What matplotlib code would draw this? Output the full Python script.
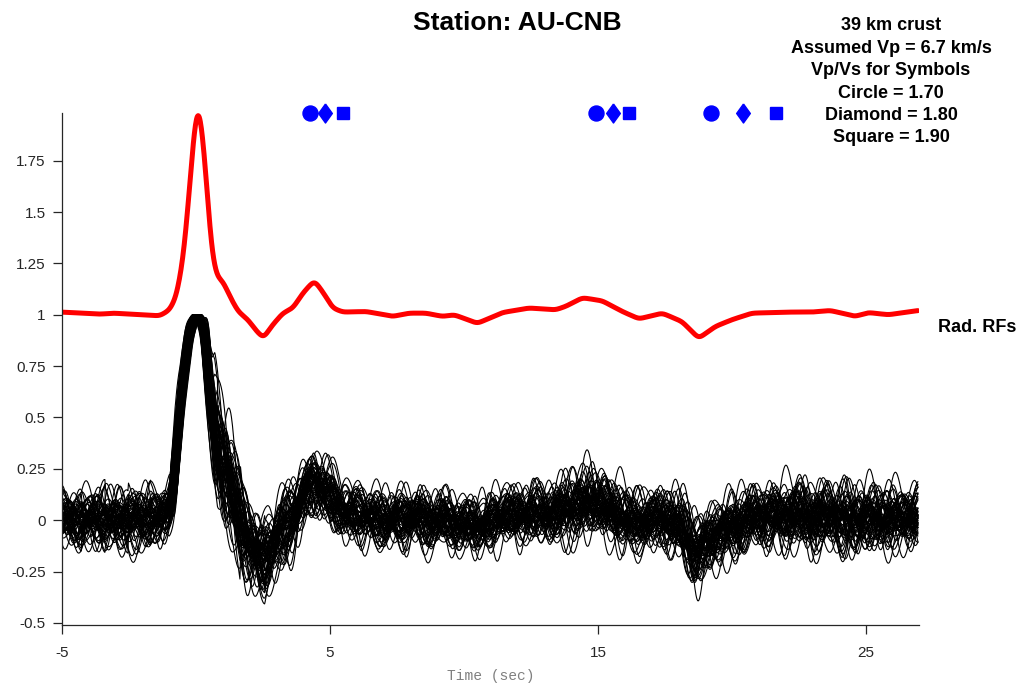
#!/usr/bin/env python3

"""
Radial receiver functions for station AU-CNB with the stacked trace on top
and predicted Ps / multiple times for three Vp/Vs ratios.
"""

import numpy as np
import matplotlib
matplotlib.use('Agg')
import matplotlib.pyplot as plt

# Stacked radial RF (red): time [s], amplitude (offset by 1)
stackTime = [-5.0, -3.58, -3.09, -2.09, -1.35, -0.98, -0.73, -0.48, -0.30, -0.11,
             0.05, 0.20, 0.39, 0.57, 0.76, 1.01, 1.26, 1.57, 1.94, 2.25,
             2.52, 2.81, 3.24, 3.62, 3.99, 4.42, 4.80, 5.10, 5.48, 6.35,
             7.34, 7.96, 8.58, 9.20, 9.64, 10.50, 11.44, 12.43, 13.42, 13.80,
             14.42, 15.16, 15.91, 16.53, 17.40, 18.14, 18.76, 19.38, 20.00, 20.75,
             22.11, 22.98, 23.67, 24.60, 25.09, 25.84, 26.95]
stackAmp = [1.013, 1.003, 1.008, 1.000, 0.995, 1.024, 1.090, 1.270, 1.520, 1.840,
            2.045, 1.950, 1.650, 1.320, 1.187, 1.163, 1.090, 1.016, 0.976, 0.922,
            0.885, 0.943, 1.008, 1.033, 1.106, 1.168, 1.098, 1.033, 1.013, 1.016,
            0.992, 1.008, 1.008, 0.992, 1.000, 0.958, 1.011, 1.033, 1.024, 1.041,
            1.083, 1.068, 1.016, 0.980, 1.008, 0.967, 0.885, 0.943, 0.976, 1.008,
            1.013, 1.013, 1.021, 0.992, 1.011, 1.000, 1.021]

# Typical shape of the individual RFs (black cloud centre)
traceTime = [-5.0, -1.2, -0.85, -0.54, -0.23, 0.05, 0.33, 0.51, 0.76, 1.01,
             1.38, 1.75, 2.12, 2.49, 2.87, 3.37, 3.86, 4.36, 4.86, 5.60,
             6.35, 7.34, 8.00, 9.20, 10.50, 11.40, 12.40, 13.40, 14.40, 15.10,
             15.90, 16.50, 17.40, 18.10, 18.70, 19.40, 20.00, 20.80, 22.10, 23.00,
             23.70, 24.60, 25.10, 25.80, 26.95]
traceAmp = [0.00, 0.00, 0.10, 0.585, 0.91, 1.00, 0.91, 0.585, 0.39, 0.29,
            0.10, -0.05, -0.146, -0.21, -0.13, -0.03, 0.065, 0.20, 0.13, 0.02,
            0.01, -0.01, 0.01, -0.01, -0.04, 0.01, 0.03, 0.02, 0.08, 0.07,
            0.01, -0.02, 0.01, -0.04, -0.17, -0.08, -0.03, 0.01, 0.02, 0.01,
            0.02, -0.01, 0.01, 0.00, 0.01]

# Trace-to-trace scatter: wiggle samples, their spacing, and per-trace settings
wiggleStep = [0.5, 0.55, 0.6, 0.45, 0.55, 0.5]
wiggles = [
    [0.6, -0.3, 0.8, -0.5, 0.2, -0.7, 0.9, -0.4, 0.3, -0.6, 0.5, 0.1, -0.8, 0.7, -0.2, 0.4,
     -0.9, 0.6, -0.3, 0.8, -0.5, 0.2, -0.4, 0.7, -0.8, 0.3, -0.1, 0.6, -0.7, 0.9, -0.3, 0.5,
     -0.6, 0.2, 0.4, -0.8, 0.7, -0.5, 0.3, -0.2, 0.8, -0.6, 0.1, -0.4, 0.9, -0.7, 0.5, -0.3,
     0.6, -0.9, 0.4, -0.2, 0.7, -0.5, 0.3, -0.8, 0.6, -0.1, 0.5, -0.7, 0.8, -0.4, 0.2, -0.6,
     0.9, -0.3],
    [-0.5, 0.7, -0.2, 0.4, -0.9, 0.6, -0.3, 0.1, 0.8, -0.6, 0.3, -0.7, 0.5, -0.4, 0.9, -0.2,
     0.2, -0.8, 0.6, -0.5, 0.7, -0.1, 0.4, -0.6, 0.8, -0.9, 0.3, -0.3, 0.5, -0.7, 0.2, 0.6,
     -0.4, 0.8, -0.5, 0.1, -0.6, 0.9, -0.2, 0.4, -0.8, 0.7, -0.3, 0.5, -0.1, -0.6, 0.8, -0.4,
     0.3, -0.7, 0.6, -0.5, 0.9, -0.2, 0.4, -0.6, 0.1, 0.7, -0.8, 0.5, -0.3, 0.6],
    [0.3, -0.8, 0.5, -0.2, 0.7, -0.4, 0.1, -0.6, 0.9, -0.5, 0.4, -0.1, 0.6, -0.9, 0.2, -0.3,
     0.8, -0.7, 0.5, 0.2, -0.4, 0.6, -0.8, 0.3, -0.5, 0.9, -0.2, 0.1, -0.6, 0.7, -0.4, 0.5,
     -0.3, 0.8, -0.9, 0.4, -0.1, 0.6, -0.5, 0.7, -0.2, 0.3, -0.8, 0.5, -0.6, 0.9, -0.4, 0.2,
     -0.7, 0.6, -0.3, 0.4, -0.5, 0.8, -0.1],
    [-0.7, 0.4, -0.3, 0.9, -0.5, 0.2, -0.1, 0.6, -0.8, 0.5, -0.4, 0.7, -0.2, 0.3, -0.6, 0.8,
     -0.9, 0.4, -0.1, 0.5, -0.7, 0.6, -0.3, 0.2, 0.7, -0.5, 0.4, -0.8, 0.9, -0.2, 0.3, -0.6,
     0.5, -0.4, 0.8, -0.7, 0.1, -0.3, 0.6, -0.9, 0.4, -0.2, 0.7, -0.5, 0.2, -0.6, 0.8, -0.1,
     0.3, -0.4, 0.6, -0.8, 0.5, -0.3, 0.9, -0.7, 0.2, -0.5, 0.4, -0.1, 0.7, -0.6, 0.3, -0.8,
     0.5, -0.2, 0.6, -0.4, 0.8, -0.3, 0.1, -0.7, 0.4],
    [0.8, -0.2, 0.4, -0.6, 0.1, -0.9, 0.5, -0.3, 0.7, -0.4, 0.2, -0.7, 0.6, -0.1, 0.9, -0.5,
     0.3, -0.8, 0.4, -0.2, 0.6, -0.6, 0.8, -0.3, 0.1, -0.5, 0.7, -0.9, 0.2, -0.4, 0.5, -0.7,
     0.9, -0.1, 0.3, -0.6, 0.6, -0.3, 0.4, -0.8, 0.2, -0.5, 0.8, -0.2, 0.5, -0.9, 0.3, -0.4,
     0.7, -0.6, 0.1, -0.3, 0.6, -0.7, 0.4, -0.5, 0.6, -0.2, 0.3],
    [-0.4, 0.6, -0.9, 0.3, -0.2, 0.7, -0.5, 0.8, -0.1, 0.4, -0.7, 0.2, -0.6, 0.9, -0.3, 0.5,
     -0.4, 0.1, 0.6, -0.8, 0.3, -0.5, 0.7, -0.2, 0.9, -0.6, 0.4, -0.3, 0.2, -0.7, 0.8, -0.4,
     0.5, -0.1, 0.6, -0.9, 0.3, -0.2, 0.7, -0.5, 0.4, -0.8, 0.1, 0.5, -0.6, 0.8, -0.3, 0.2,
     -0.4, 0.7, -0.7, 0.3, -0.5, 0.6, -0.2, 0.9, -0.6, 0.4, -0.3, 0.5, -0.8, 0.2, -0.1, 0.6,
     -0.5, 0.3],
]
wiggleRoll = [0, 37, 81, 124, 166, 203, 248, 291, 333, 379]
wiggleScale = [0.17, 0.23, 0.29, 0.19, 0.32, 0.25, 0.15, 0.30, 0.21, 0.34]
pulseShift = [0.0, -0.1, 0.07, -0.15, 0.12, 0.04, -0.05]

# Scatter envelope along the record (quiet around the direct P pulse)
envTime = [-5.0, -1.0, -0.6, 0.3, 0.7, 1.1, 2.0, 3.0, 4.0, 5.5, 6.0, 13.0, 14.5, 15.5,
           17.0, 18.5, 19.5, 21.0, 22.0, 24.0, 26.95]
envGain = [0.8, 0.8, 0.2, 0.2, 1.4, 1.5, 1.15, 0.95, 0.85, 0.8, 0.75, 0.8, 1.0, 0.95,
           0.85, 1.0, 0.9, 0.85, 0.95, 0.95, 0.85]

# Predicted Ps, PpPs, PpSs times for Vp/Vs = 1.70 / 1.80 / 1.90
circleTimes = [4.27, 14.93, 19.21]
diamondTimes = [4.83, 15.56, 20.40]
squareTimes = [5.47, 16.15, 21.63]

infoLines = ['39 km crust', 'Assumed Vp = 6.7 km/s', 'Vp/Vs for Symbols',
             'Circle = 1.70', 'Diamond = 1.80', 'Square = 1.90']
yTicks = [-0.5, -0.25, 0, 0.25, 0.5, 0.75, 1, 1.25, 1.5, 1.75]
yTickLabels = ['-0.5', '-0.25', '0', '0.25', '0.5', '0.75', '1', '1.25', '1.5', '1.75']
xTicks = [-5, 5, 15, 25]
xTickLabels = ['-5', '5', '15', '25']

dt = 0.02
time = np.arange(-5.0, 26.96, dt)


def smooth(values, sigma):
    """Gaussian smoothing of a sampled series, sigma in seconds."""
    half = int(4 * sigma / dt)
    kernel = np.exp(-0.5 * (np.arange(-half, half + 1) * dt / sigma) ** 2)
    kernel /= kernel.sum()
    return np.convolve(np.pad(values, half, mode='edge'), kernel, mode='valid')


def buildTraces():
    """Individual RFs: common shape plus the typed scatter, peak scaled to 1."""
    envelope = np.interp(time, envTime, envGain)
    wiggleCurves = []
    for step, samples in zip(wiggleStep, wiggles):
        sampleTime = -5.0 + step * np.arange(len(samples))
        wiggleCurves.append(smooth(np.interp(time, sampleTime, samples), 0.13))

    traces = []
    for k in range(len(wiggleRoll) * len(wiggles)):
        first = np.roll(wiggleCurves[k % 6], wiggleRoll[k // 6])
        second = np.roll(wiggleCurves[(k + 2) % 6], wiggleRoll[(k // 6 + 3) % 10])
        scatter = wiggleScale[k % 10] * (first + 0.4 * second) * envelope
        shape = smooth(np.interp(time - pulseShift[k % 7], traceTime, traceAmp), 0.06)
        trace = shape + scatter
        window = np.abs(time) < 0.6
        traces.append(trace / trace[window].max())
    return traces


def main():
    plt.rcParams['axes.unicode_minus'] = False
    fig = plt.figure(figsize=(10.27, 6.85), dpi=100)
    ax = fig.add_axes([0.0604, 0.0876, 0.8344, 0.7474])

    # Individual receiver functions
    for trace in buildTraces():
        ax.plot(time, trace, color='black', linewidth=0.8)

    # Stack on top
    stack = smooth(np.interp(time, stackTime, stackAmp), 0.1)
    ax.plot(time, stack, color='#ff0000', linewidth=3.6, solid_capstyle='round')

    # Vp/Vs symbols along the top
    yTop = 1.982
    diamond = [(0, 1), (0.72, 0), (0, -1), (-0.72, 0), (0, 1)]
    ax.plot(circleTimes, [yTop] * 3, 'o', color='#0000ff', markersize=10.8, clip_on=False)
    ax.plot(diamondTimes, [yTop] * 3, marker=diamond, linestyle='none', color='#0000ff',
            markersize=13.7, clip_on=False)
    ax.plot(squareTimes, [yTop] * 3, 's', color='#0000ff', markersize=8, clip_on=False)

    # Axes styling
    ax.set_xlim(-5, 26.98)
    ax.set_ylim(-0.51, 1.982)
    ax.set_xticks(xTicks)
    ax.set_xticklabels(xTickLabels)
    ax.set_yticks(yTicks)
    ax.set_yticklabels(yTickLabels)
    for side in ['top', 'right']:
        ax.spines[side].set_visible(False)
    for side in ['left', 'bottom']:
        ax.spines[side].set_color('#262626')
        ax.spines[side].set_linewidth(0.9)
    ax.tick_params(direction='out', length=6.8, width=0.9, color='#262626',
                   labelcolor='#262626', labelsize=11)
    ax.tick_params(axis='y', pad=5)
    ax.tick_params(axis='x', pad=8)
    for label in ax.get_xticklabels() + ax.get_yticklabels():
        label.set_family('Liberation Sans')
    ax.set_xlabel('Time (sec)', family='Liberation Mono', fontsize=10.5,
                  color='#808080', labelpad=7)

    # Titles and annotation
    fig.text(0.504, 1 - 23 / 685, 'Station: AU-CNB', ha='center', va='center',
             family='Liberation Sans', fontweight='bold', fontsize=19)
    for index, line in enumerate(infoLines):
        fig.text(0.8676, 1 - (26 + 22.4 * index) / 685, line, ha='center', va='center',
                 family='Liberation Sans', fontweight='bold', fontsize=13)
    fig.text(938 / 1027, 1 - 328 / 685, 'Rad. RFs', ha='left', va='center',
             family='Liberation Sans', fontweight='bold', fontsize=13)

    fig.savefig('out.png', dpi=100)


if __name__ == "__main__":
    main()
